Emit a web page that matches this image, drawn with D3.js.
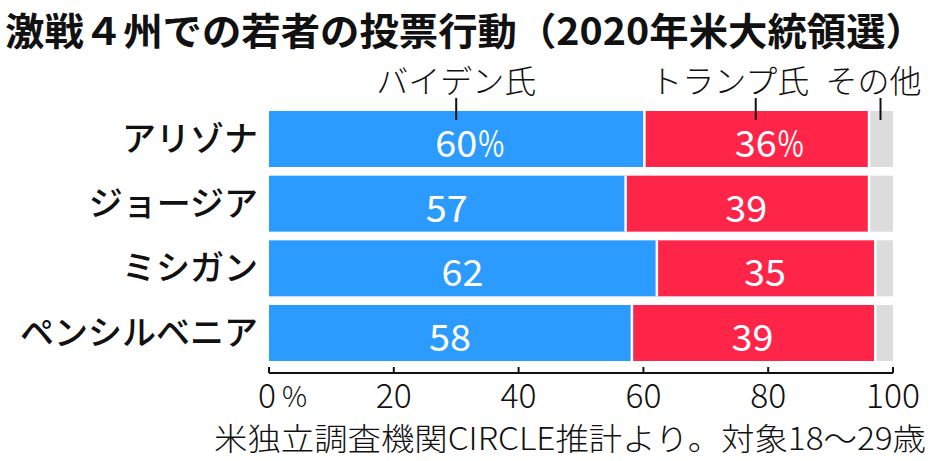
<!DOCTYPE html>
<html><head><meta charset="utf-8">
<script src="https://cdn.jsdelivr.net/npm/d3@7"></script>
<style>
html,body{margin:0;padding:0;background:#fff;}
text{font-family:"Noto Sans CJK JP","Noto Sans",sans-serif;}
</style></head>
<body><svg id="c" width="934" height="461"></svg>
<script>
const title = "激戦４州での若者の投票行動（2020年米大統領選）";
const footnote = "米独立調査機関CIRCLE推計より。対象18～29歳";
const states = ["アリゾナ", "ジョージア", "ミシガン", "ペンシルベニア"];
const seriesNames = ["バイデン氏", "トランプ氏", "その他"];
const biden = [60, 57, 62, 58];
const trump = [36, 39, 35, 39];
const other = [4, 4, 3, 3];
const xTicks = [0, 20, 40, 60, 80, 100];
const colors = ["#2b9bff", "#ff2549", "#dcdcdc"];

const svg = d3.select("#c");
const x = d3.scaleLinear().domain([0, 100]).range([269, 893]);
const y = d3.scaleBand().domain(states).range([111, 361]).paddingInner(0.134);

// title
svg.append("text").attr("x", 5).attr("y", 45)
  .attr("font-size", 38).attr("font-weight", 700)
  .attr("textLength", 920).attr("lengthAdjust", "spacingAndGlyphs")
  .attr("fill", "#111").text(title);

const rows = states.map((s, i) => {
  const vals = [biden[i], trump[i], other[i]];
  let c = 0;
  return {state: s, segs: vals.map((v, k) => { const o = {k, v, x0: c, x1: c + v}; c += v; return o; })};
});

const g = svg.append("g");
rows.forEach((r, i) => {
  const yy = y(r.state), h = y.bandwidth();
  r.segs.forEach(sg => {
    g.append("rect").attr("x", x(sg.x0)).attr("y", yy)
      .attr("width", x(sg.x1) - x(sg.x0)).attr("height", h)
      .attr("fill", colors[sg.k]);
  });
  r.segs.slice(0, 2).forEach(sg => {
    g.append("line").attr("x1", x(sg.x1) + 1).attr("x2", x(sg.x1) + 1)
      .attr("y1", yy).attr("y2", yy + h)
      .attr("stroke", "#fff").attr("stroke-width", 2.5);
  });
  r.segs.slice(0, 2).forEach(sg => {
    const cx = x((sg.x0 + sg.x1) / 2);
    g.append("text").attr("x", cx).attr("y", yy + h / 2 + 18)
      .attr("font-size", 37).attr("font-weight", 400).attr("fill", "#fff")
      .attr("text-anchor", "middle")
      .attr("textLength", String(sg.v).length * 21).attr("lengthAdjust", "spacingAndGlyphs")
      .text(sg.v);
    if (i === 0) {
      g.append("text").attr("x", cx + 22).attr("y", yy + h / 2 + 18)
        .attr("font-size", 37).attr("font-weight", 400).attr("fill", "#fff")
        .attr("textLength", 26).attr("lengthAdjust", "spacingAndGlyphs")
        .text("%");
    }
  });
  svg.append("text").attr("x", 258).attr("y", yy + h / 2 + 12)
    .attr("font-size", 34).attr("font-weight", 500).attr("fill", "#111")
    .attr("text-anchor", "end").text(r.state);
});

// legend labels and leader ticks (on first row)
const legendOffsets = [0, -26, -7];
rows[0].segs.forEach(sg => {
  const cx = x((sg.x0 + sg.x1) / 2);
  svg.append("line").attr("x1", cx).attr("x2", cx).attr("y1", 98).attr("y2", 120)
    .attr("stroke", "#111").attr("stroke-width", 2);
  svg.append("text").attr("x", cx + legendOffsets[sg.k]).attr("y", 93)
    .attr("font-size", 32).attr("font-weight", 300).attr("fill", "#111")
    .attr("text-anchor", "middle").text(seriesNames[sg.k]);
});

// axis
const ax = svg.append("g").attr("transform", "translate(0,373)");
ax.append("line").attr("x1", x(0)).attr("x2", x(100)).attr("y1", 0).attr("y2", 0)
  .attr("stroke", "#111").attr("stroke-width", 2);
xTicks.forEach(t => {
  ax.append("line").attr("x1", x(t)).attr("x2", x(t)).attr("y1", -6).attr("y2", 0)
    .attr("stroke", "#111").attr("stroke-width", 2);
  const s = String(t);
  ax.append("text").attr("x", x(t) - (t === 0 ? 2 : 0)).attr("y", 35)
    .attr("font-size", 34).attr("font-weight", 300).attr("fill", "#111")
    .attr("text-anchor", "middle")
    .attr("textLength", s.length * 18).attr("lengthAdjust", "spacingAndGlyphs")
    .text(s);
  if (t === 0) {
    ax.append("text").attr("x", x(t) + 13).attr("y", 34)
      .attr("font-size", 28).attr("font-weight", 300).attr("fill", "#111").text("%");
  }
});

// footnote
svg.append("text").attr("x", 214).attr("y", 450)
  .attr("font-size", 31).attr("font-weight", 300).attr("fill", "#111")
  .attr("textLength", 712).attr("lengthAdjust", "spacingAndGlyphs")
  .text(footnote);
</script></body></html>
